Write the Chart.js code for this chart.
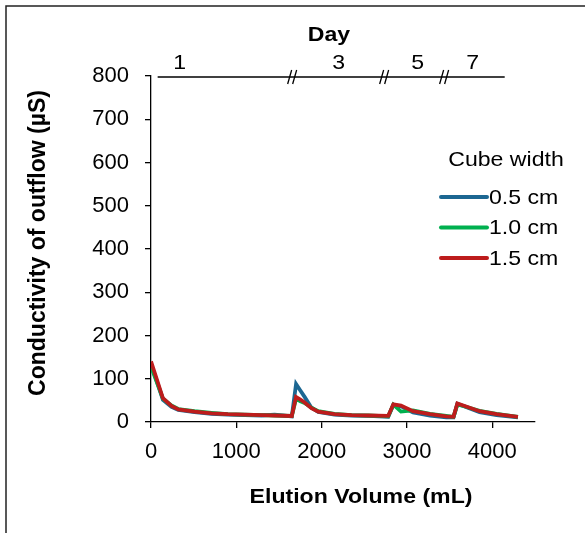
<!DOCTYPE html>
<html>
<head>
<meta charset="utf-8">
<title>Conductivity of outflow</title>
<script src="https://cdn.jsdelivr.net/npm/chart.js@4.4.1/dist/chart.umd.min.js"></script>
<style>
  html, body { margin: 0; padding: 0; background: #fff; }
  canvas { display: block; }
</style>
</head>
<body>
<canvas id="conductivityChart" width="585" height="533"></canvas>
<script>
// elution volume (mL) shared by all three series
const elutionVolume = [0, 140, 240, 320, 510, 710, 900, 1100, 1300, 1450, 1650, 1700, 1750, 1800, 1880, 1960, 2150, 2350, 2550, 2780, 2840, 2930, 3070, 3270, 3460, 3545, 3590, 3660, 3850, 4050, 4300];

// conductivity (µS) per cube width
const width05 = [135, 51, 35, 28, 23, 19, 17, 16, 15, 17, 13, 88, 73, 58, 33, 23, 17, 15, 14, 12, 40, 36, 22, 15, 11, 11, 42, 37, 23, 16, 11];
const width10 = [128, 54, 38, 30, 25, 21, 18, 17, 16, 15, 14, 54, 48, 44, 33, 25, 19, 16, 15, 13, 40, 24, 27, 19, 14, 12, 40, 37, 26, 19, 12];
const width15 = [140, 55, 37, 29, 24, 20, 18, 17, 16, 15, 14, 58, 52, 45, 32, 24, 18, 16, 15, 14, 41, 38, 25, 18, 13, 12, 43, 38, 25, 18, 12];

const seriesLabels = ['0.5 cm', '1.0 cm', '1.5 cm'];
const seriesColors = ['#1c6792', '#00b04f', '#bd1c1c'];

const xTicks = [0, 1000, 2000, 3000, 4000];

// day marker band above the plot (positions in mL)
const dayLabels = ['1', '3', '5', '7'];
const dayLabelAt = [336, 2199, 3125, 3769];
const dayBreaks = [1660, 2738, 3441];
const dayLineRange = [78, 4145];

const FONT = '"Liberation Sans", Arial, sans-serif';

function toPoints(ys) {
  return ys.map((y, i) => ({ x: elutionVolume[i], y }));
}

// text drawn slightly widened, like the rest of the figure
function wideText(ctx, text, x, y, align) {
  ctx.save();
  ctx.translate(x, y);
  ctx.scale(1.1, 1);
  ctx.textAlign = align || 'center';
  ctx.fillText(text, 0, 0);
  ctx.restore();
}

const extras = {
  id: 'extras',
  afterDraw(chart) {
    const { ctx, chartArea, scales } = chart;
    const xs = scales.x;
    ctx.save();

    // outer frame
    ctx.strokeStyle = '#222';
    ctx.lineWidth = 1.5;
    ctx.beginPath();
    ctx.moveTo(6, 533);
    ctx.lineTo(6, 6);
    ctx.lineTo(585, 6);
    ctx.stroke();

    // day band
    const lineY = chartArea.top + 1;
    ctx.strokeStyle = '#000';
    ctx.lineWidth = 1.3;
    ctx.beginPath();
    ctx.moveTo(xs.getPixelForValue(dayLineRange[0]), lineY);
    ctx.lineTo(xs.getPixelForValue(dayLineRange[1]), lineY);
    ctx.stroke();
    dayBreaks.forEach(v => {
      const px = xs.getPixelForValue(v);
      [-3, 2].forEach(off => {
        ctx.beginPath();
        ctx.moveTo(px + off - 2, lineY + 7);
        ctx.lineTo(px + off + 2, lineY - 7);
        ctx.stroke();
      });
    });

    ctx.fillStyle = '#000';
    ctx.textBaseline = 'middle';
    ctx.font = '21px ' + FONT;
    dayLabels.forEach((t, i) => {
      wideText(ctx, t, xs.getPixelForValue(dayLabelAt[i]), lineY - 14);
    });
    ctx.font = 'bold 21px ' + FONT;
    wideText(ctx, 'Day', 329, 35);

    // axis titles
    wideText(ctx, 'Elution Volume (mL)', 361, 497);
    ctx.save();
    ctx.translate(39, 243);
    ctx.rotate(-Math.PI / 2);
    ctx.font = 'bold 23px ' + FONT;
    ctx.textAlign = 'center';
    ctx.fillText('Conductivity of outflow (µS)', 0, 0);
    ctx.restore();

    // legend
    ctx.font = '21px ' + FONT;
    wideText(ctx, 'Cube width', 506, 160);
    chart.data.datasets.forEach((ds, i) => {
      const y = 197 + i * 30.5;
      ctx.strokeStyle = ds.borderColor;
      ctx.lineWidth = 4;
      ctx.lineCap = 'round';
      ctx.beginPath();
      ctx.moveTo(441, y);
      ctx.lineTo(487, y);
      ctx.stroke();
      wideText(ctx, ds.label, 489, y + 1, 'left');
    });

    ctx.restore();
  }
};

new Chart(document.getElementById('conductivityChart'), {
  type: 'line',
  data: {
    datasets: [width05, width10, width15].map((ys, i) => ({
      label: seriesLabels[i],
      data: toPoints(ys),
      borderColor: seriesColors[i],
      backgroundColor: seriesColors[i],
      borderWidth: 3.8,
      pointRadius: 0,
      tension: 0,
      fill: false,
      order: 3 - i
    }))
  },
  options: {
    responsive: false,
    animation: false,
    layout: { padding: { top: 76, right: 50, left: 0, bottom: 0 } },
    plugins: {
      legend: { display: false },
      tooltip: { enabled: false }
    },
    scales: {
      x: {
        type: 'linear',
        min: 0,
        max: 4500,
        afterFit(scale) { scale.height = 111; },
        afterBuildTicks(scale) { scale.ticks = xTicks.map(v => ({ value: v })); },
        border: { color: '#000', width: 1.3 },
        grid: { drawOnChartArea: false, drawTicks: true, tickLength: 6, color: '#000', lineWidth: 1.3 },
        ticks: { autoSkip: false, maxRotation: 0, padding: 11, color: '#000', font: { family: FONT, size: 22 }, callback: v => String(v) }
      },
      y: {
        min: 0,
        max: 800,
        afterFit(scale) { scale.width = 151; },
        border: { color: '#000', width: 1.3 },
        grid: { drawOnChartArea: false, drawTicks: true, tickLength: 6, color: '#000', lineWidth: 1.3 },
        ticks: { stepSize: 100, padding: 16, color: '#000', font: { family: FONT, size: 22 }, callback: v => String(v) }
      }
    }
  },
  plugins: [extras]
});
</script>
</body>
</html>
